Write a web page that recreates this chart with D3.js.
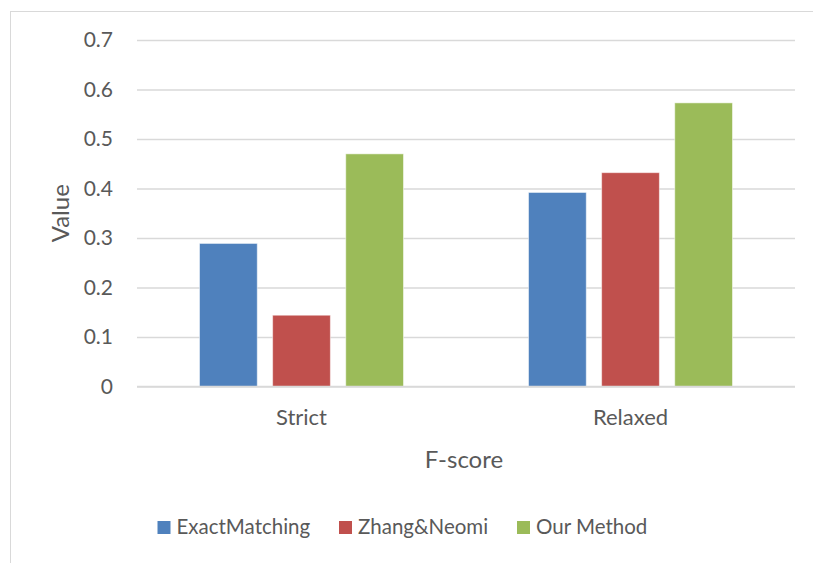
<!DOCTYPE html>
<html>
<head>
<meta charset="utf-8">
<script src="https://cdn.jsdelivr.net/npm/d3@7"></script>
<style>
  html, body { margin: 0; padding: 0; background: #fff; }
  svg { display: block; }
  text { font-family: "Lato", "Open Sans", sans-serif; fill: #595959; }
</style>
</head>
<body>
<svg id="chart" width="813" height="563"></svg>
<script>
// F-score comparison data
const categories = ["Strict", "Relaxed"];
const seriesNames = ["ExactMatching", "Zhang&Neomi", "Our Method"];
const exactMatching = [0.289, 0.392];
const zhangNeomi = [0.144, 0.432];
const ourMethod = [0.470, 0.573];
const yTicks = [0, 0.1, 0.2, 0.3, 0.4, 0.5, 0.6, 0.7];
const colors = ["#4F81BD", "#C0504D", "#9BBB59"];

const seriesValues = [exactMatching, zhangNeomi, ourMethod];

const svg = d3.select("#chart");

// outer chart frame
svg.append("rect")
  .attr("x", 10.5).attr("y", 11.5)
  .attr("width", 900).attr("height", 700)
  .attr("fill", "none").attr("stroke", "#d9d9d9").attr("stroke-width", 1);

const plot = { left: 137, right: 795, top: 40, bottom: 386.5 };

const y = d3.scaleLinear().domain([0, 0.7]).range([plot.bottom, plot.top]);
const x0 = d3.scaleBand().domain(categories).range([plot.left, plot.right]).paddingInner(0.38).paddingOuter(0.19);
const x1 = d3.scaleBand().domain(seriesNames).range([0, x0.bandwidth()]).paddingInner(0.21);

// horizontal gridlines and value labels
const yAxis = d3.axisLeft(y).tickValues(yTicks).tickSize(-(plot.right - plot.left)).tickPadding(24)
  .tickFormat(d => d === 0 ? "0" : d3.format(".1f")(d));
const gy = svg.append("g").attr("transform", `translate(${plot.left},0)`).call(yAxis);
gy.select(".domain").remove();
gy.selectAll(".tick line").attr("stroke", "#d9d9d9").attr("stroke-width", 1.5);
gy.selectAll(".tick text").attr("font-size", 21).attr("fill", "#595959")
  .style("font-family", "Lato, 'Open Sans', sans-serif");

// bars
const groups = svg.append("g").selectAll("g")
  .data(categories)
  .join("g")
  .attr("transform", c => `translate(${x0(c)},0)`);

groups.selectAll("rect")
  .data((c, ci) => seriesNames.map((s, si) => ({ s, v: seriesValues[si][ci], color: colors[si] })))
  .join("rect")
  .attr("x", d => x1(d.s))
  .attr("y", d => y(d.v))
  .attr("width", x1.bandwidth())
  .attr("height", d => y(0) - y(d.v))
  .attr("fill", d => d.color)
  .attr("stroke", "rgba(255,255,255,0.5)")
  .attr("stroke-width", 1);

// category axis line and labels
svg.append("line")
  .attr("x1", plot.left).attr("x2", plot.right)
  .attr("y1", plot.bottom).attr("y2", plot.bottom)
  .attr("stroke", "#d9d9d9").attr("stroke-width", 1.5);

const xAxis = d3.axisBottom(x0).tickSize(0).tickPadding(23);
const gx = svg.append("g").attr("transform", `translate(0,${plot.bottom})`).call(xAxis);
gx.select(".domain").remove();
gx.selectAll(".tick text").attr("font-size", 22).attr("fill", "#595959")
  .style("font-family", "Lato, 'Open Sans', sans-serif");

// axis titles
svg.append("text")
  .attr("x", (plot.left + plot.right) / 2 - 2).attr("y", 468)
  .attr("text-anchor", "middle").attr("font-size", 24)
  .text("F-score");

svg.append("text")
  .attr("transform", `translate(69,${(plot.top + plot.bottom) / 2}) rotate(-90)`)
  .attr("text-anchor", "middle").attr("font-size", 24)
  .text("Value");

// legend
const legendX = [157.5, 339, 517];
const legend = svg.append("g").selectAll("g")
  .data(seriesNames)
  .join("g")
  .attr("transform", (d, i) => `translate(${legendX[i]},521)`);
legend.append("rect").attr("width", 13).attr("height", 13).attr("fill", (d, i) => colors[i]);
legend.append("text").attr("x", 19).attr("y", 13).attr("font-size", 20.5).text(d => d);
</script>
</body>
</html>
